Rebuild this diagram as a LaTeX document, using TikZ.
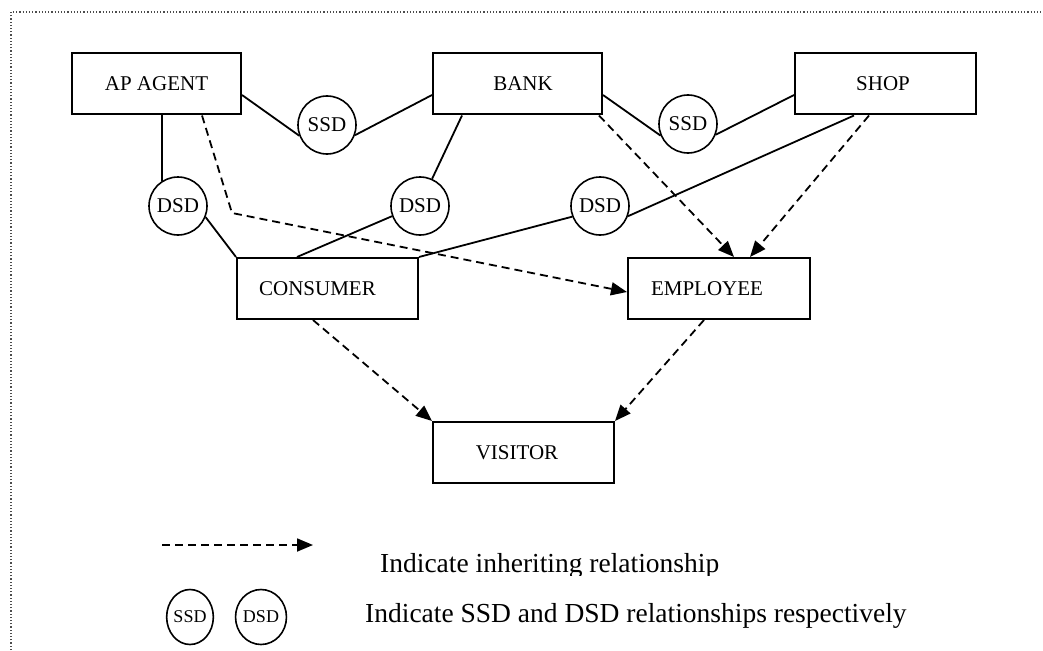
\documentclass[tikz,border=0pt]{standalone}
\usepackage{fontspec}
\setmainfont{Liberation Serif}
\usetikzlibrary{arrows.meta,calc,shapes.geometric}
\begin{document}
\begin{tikzpicture}[x=1pt,y=-1pt,
  box/.style={draw,line width=2pt,rectangle,minimum height=61pt,inner sep=0pt,
    font=\fontsize{21}{25}\selectfont},
  rel/.style={draw,circle,line width=1.6pt,minimum size=58pt,inner sep=0pt,
    font=\fontsize{21}{25}\selectfont},
  legrel/.style={draw,ellipse,line width=1.6pt,minimum width=45pt,minimum height=55pt,inner sep=0pt,
    font=\fontsize{18}{22}\selectfont},
  link/.style={line width=1.8pt},
  inherit/.style={line width=1.8pt,dash pattern=on 8pt off 5pt,-{Triangle[length=16pt,width=13pt]}},
  legtext/.style={inner sep=0pt,font=\fontsize{27.5}{32}\selectfont},
  frame/.style={line width=1.2pt,dotted,black!70}
]
\useasboundingbox (0,0) rectangle (1043,650);
% frame
\draw[frame] (11,650) -- (11,12) -- (1043,12);

% role boxes
\node[box,minimum width=169pt] (ap)   at (156.5,84) {AP AGENT};
\node[box,minimum width=169pt] (bank) at (517.5,84) {\hspace*{11pt}BANK};
\node[box,minimum width=181pt] (shop) at (885.5,84) {SHOP\hspace*{5pt}};
\node[box,minimum width=181pt] (cons) at (327.5,288.5) {CONSUMER\hspace*{20pt}};
\node[box,minimum width=182pt] (emp)  at (719,288.5) {EMPLOYEE\hspace*{24pt}};
\node[box,minimum width=181pt] (vis)  at (523.5,452.5) {VISITOR\hspace*{13pt}};

% relation circles
\node[rel] (ssd1) at (327,125) {SSD};
\node[rel] (ssd2) at (688,124) {SSD};
\node[rel] (dsd1) at (178,206) {DSD};
\node[rel] (dsd2) at (420,206) {DSD};
\node[rel] (dsd3) at (600,206) {DSD};

% solid links
\draw[link] ([yshift=-11pt]ap.east) -- (ssd1.201);
\draw[link] (ssd1.-20) -- ([yshift=-11pt]bank.west);
\draw[link] ([yshift=-11pt]bank.east) -- (ssd2.203);
\draw[link] (ssd2.-21) -- ([yshift=-11pt]shop.west);
\draw[link] (ap.south -| dsd1.123) -- (dsd1.123);
\draw[link] (dsd1.-22) -- (cons.north west);
\draw[link] ([xshift=30pt]bank.south west) -- (dsd2.66);
\draw[link] (dsd2.200) -- ([xshift=61pt]cons.north west);
\draw[link] ([xshift=60pt]shop.south west) -- (dsd3.-20);
\draw[link] (dsd3.201) -- (cons.north east);

% inheritance
\coordinate (bend) at (232,213);
\draw[inherit] ([xshift=131pt]ap.south west) -- (bend) -- ([yshift=-3.5pt]emp.west);
\draw[inherit] ([xshift=-4pt]bank.south east) -- ([xshift=15pt]emp.north);
\draw[inherit] ([xshift=75pt]shop.south west) -- ([xshift=31pt]emp.north);
\draw[inherit] ([xshift=-14.5pt]cons.south) -- (vis.north west);
\draw[inherit] ([xshift=-15pt]emp.south) -- (vis.north east);

% legend
\coordinate (la) at (162,545);
\coordinate (lb) at (313,545);
\draw[inherit] (la) -- (lb);
\begin{scope}
  \clip (370,530) rectangle (760,575.5);
  \node[legtext,anchor=base west] (t1) at (380,572) {Indicate inheriting relationship};
\end{scope}
\node[legrel] (lssd) at (190,617) {SSD};
\node[legrel] (ldsd) at (261,617) {DSD};
\node[legtext,anchor=base west] (t2) at (365,622) {Indicate SSD and DSD relationships respectively};
\end{tikzpicture}
\end{document}
